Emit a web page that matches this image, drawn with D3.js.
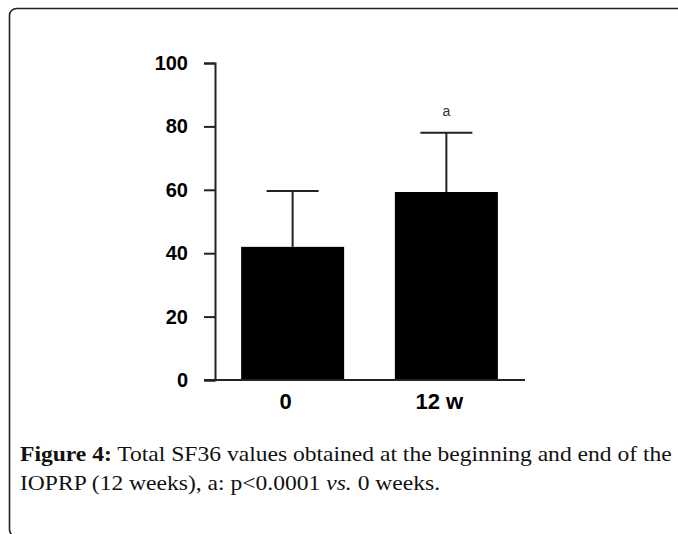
<!DOCTYPE html>
<html>
<head>
<meta charset="utf-8">
<script src="https://cdn.jsdelivr.net/npm/d3@7"></script>
<style>
  body { margin: 0; background: #fff; }
  svg { display: block; }
</style>
</head>
<body>
<svg id="chart" width="678" height="534"></svg>
<script>
// values
var categories = ['0', '12 w'];
var means = [42, 59.3];
var sds = [17.6, 18.7];
var marks = ['', 'a'];
var yTicks = [0, 20, 40, 60, 80, 100];

var svg = d3.select('#chart');

// rounded frame around the figure
svg.append('rect')
    .attr('x', 9.5).attr('y', 8.5)
    .attr('width', 720).attr('height', 528)
    .attr('rx', 7)
    .attr('fill', 'none')
    .attr('stroke', '#222')
    .attr('stroke-width', 1.6);

var y = d3.scaleLinear().domain([0, 100]).range([380, 63]);
var x = d3.scaleBand().domain(categories)
    .range([215, 524])
    .paddingInner(0.33)
    .paddingOuter(0.17);

var data = categories.map(function (c, i) {
    return { cat: c, mean: means[i], sd: sds[i], mark: marks[i] };
});

// bars
svg.selectAll('rect.bar')
    .data(data)
    .enter().append('rect')
    .attr('class', 'bar')
    .attr('x', function (d) { return x(d.cat); })
    .attr('width', x.bandwidth())
    .attr('y', function (d) { return y(d.mean); })
    .attr('height', function (d) { return y(0) - y(d.mean); })
    .attr('fill', '#000');

// error bars (upper only)
var capW = 52;
var err = svg.selectAll('g.err')
    .data(data)
    .enter().append('g')
    .attr('class', 'err')
    .attr('stroke', '#222')
    .attr('stroke-width', 2);
err.append('line')
    .attr('x1', function (d) { return x(d.cat) + x.bandwidth() / 2; })
    .attr('x2', function (d) { return x(d.cat) + x.bandwidth() / 2; })
    .attr('y1', function (d) { return y(d.mean); })
    .attr('y2', function (d) { return y(d.mean + d.sd); });
err.append('line')
    .attr('x1', function (d) { return x(d.cat) + x.bandwidth() / 2 - capW / 2; })
    .attr('x2', function (d) { return x(d.cat) + x.bandwidth() / 2 + capW / 2; })
    .attr('y1', function (d) { return y(d.mean + d.sd); })
    .attr('y2', function (d) { return y(d.mean + d.sd); });

// significance letter
svg.selectAll('text.mark')
    .data(data)
    .enter().append('text')
    .attr('class', 'mark')
    .attr('x', function (d) { return x(d.cat) + x.bandwidth() / 2; })
    .attr('y', function (d) { return y(d.mean + d.sd) - 17; })
    .attr('text-anchor', 'middle')
    .attr('font-family', 'Liberation Sans, Arial, sans-serif')
    .attr('font-size', 14)
    .attr('fill', '#333')
    .text(function (d) { return d.mark; });

// y axis
var yAxis = svg.append('g')
    .attr('transform', 'translate(215,0)')
    .call(d3.axisLeft(y).tickValues(yTicks).tickSize(11).tickPadding(16));
yAxis.selectAll('text')
    .attr('font-family', 'Liberation Sans, Arial, sans-serif')
    .attr('font-weight', 'bold')
    .attr('font-size', 20)
    .attr('fill', '#000');

// x axis
var xAxis = svg.append('g')
    .attr('transform', 'translate(0,380)')
    .call(d3.axisBottom(x).tickSize(0).tickPadding(13));
xAxis.select('.domain').attr('d', 'M204,0H525');
xAxis.selectAll('text')
    .attr('dx', -7)
    .attr('font-family', 'Liberation Sans, Arial, sans-serif')
    .attr('font-weight', 'bold')
    .attr('font-size', 22)
    .attr('fill', '#000');

svg.selectAll('.domain, .tick line')
    .attr('stroke', '#222')
    .attr('stroke-width', 2);

// caption, stretched so the first line spans the same width as the original
var capG = svg.append('g');
var cap = capG.append('text')
    .attr('font-family', 'Liberation Serif, Times New Roman, serif')
    .attr('font-size', 21)
    .attr('fill', '#111');
var l1 = cap.append('tspan').attr('x', 0).attr('y', 461);
l1.append('tspan').attr('font-weight', 'bold').text('Figure 4:');
l1.append('tspan').text(' Total SF36 values obtained at the beginning and end of the');
var l2 = cap.append('tspan').attr('x', 0).attr('y', 490);
l2.append('tspan').text('IOPRP (12 weeks), a: p<0.0001 ');
l2.append('tspan').attr('font-style', 'italic').text('vs.');
l2.append('tspan').text(' 0 weeks.');

var w1 = 0;
l1.selectAll('tspan').each(function () { w1 += this.getComputedTextLength(); });
var sx = w1 > 0 ? 652 / w1 : 1;
capG.attr('transform', 'translate(20,0) scale(' + sx + ',1)');
</script>
</body>
</html>
